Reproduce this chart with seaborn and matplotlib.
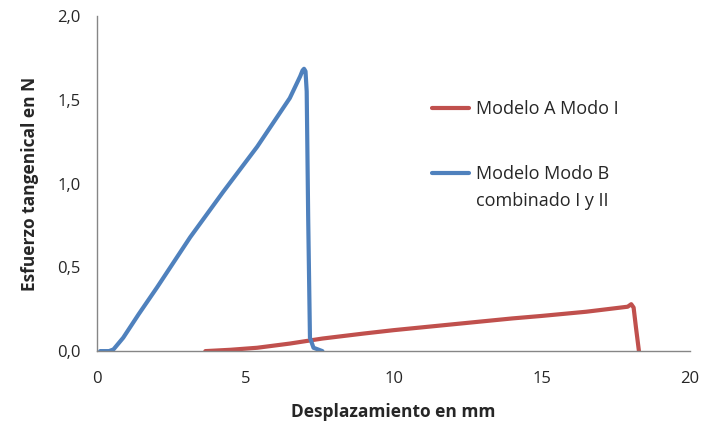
import pandas as pd
import matplotlib.pyplot as plt
import seaborn as sns

# Curve A (Modelo A Modo I)
x_a = [3.65, 4.5, 5.4, 6.5, 7.6, 9.0, 10.0, 12.0, 14.0, 15.0, 16.5, 17.9, 18.02, 18.1, 18.18, 18.28]
y_a = [0.0, 0.008, 0.02, 0.045, 0.075, 0.105, 0.125, 0.16, 0.195, 0.21, 0.235, 0.265, 0.28, 0.26, 0.14, 0.0]

# Curve B (Modelo Modo B combinado I y II)
x_b = [0.1, 0.4, 0.55, 0.88, 1.4, 2.02, 3.14, 4.25, 5.4, 6.5, 6.85, 6.93, 6.98, 7.03, 7.07, 7.12, 7.18, 7.3, 7.6]
y_b = [0.0, 0.0, 0.01, 0.08, 0.22, 0.38, 0.68, 0.95, 1.22, 1.51, 1.64, 1.675, 1.685, 1.67, 1.55, 0.8, 0.08, 0.02, 0.0]

labels = ['Modelo A Modo I', 'Modelo Modo B\ncombinado I y II']
colors = ['#C0504D', '#4F81BD']

df = pd.concat([
    pd.DataFrame({'x': x_a, 'y': y_a, 'serie': labels[0]}),
    pd.DataFrame({'x': x_b, 'y': y_b, 'serie': labels[1]}),
])

sns.set_style('white')
plt.rcParams['font.family'] = ['Open Sans', 'DejaVu Sans']

fig = plt.figure(figsize=(7.04, 4.21), dpi=100)
ax = fig.add_axes([0.138, 0.166, 0.842, 0.796])

sns.lineplot(data=df, x='x', y='y', hue='serie', palette=colors, sort=False,
             estimator=None, linewidth=3, ax=ax)

ax.set_xlim(0, 20)
ax.set_ylim(0, 2.0)
ax.set_xticks([0, 5, 10, 15, 20])
ax.set_yticks([0, 0.5, 1.0, 1.5, 2.0])
ax.set_yticklabels(['0,0', '0,5', '1,0', '1,5', '2,0'])
ax.tick_params(axis='x', length=0, labelsize=12, pad=14)
ax.tick_params(axis='y', length=0, labelsize=12, pad=12)
ax.set_xlabel('Desplazamiento en mm', fontsize=12.5, fontweight='bold', labelpad=12)
ax.set_ylabel('Esfuerzo tangenical en N', fontsize=12.5, fontweight='bold', labelpad=13)

for side in ['top', 'right']:
    ax.spines[side].set_visible(False)
for side in ['left', 'bottom']:
    ax.spines[side].set_color('#868686')
    ax.spines[side].set_linewidth(1)

handles, labs = ax.get_legend_handles_labels()
leg = ax.legend(handles, labs, loc='upper left', bbox_to_anchor=(0.565, 0.749), frameon=False,
                fontsize=13, handlelength=2.07, handletextpad=0.39, labelspacing=2.6,
                borderpad=0, borderaxespad=0)
for t in leg.get_texts():
    t.set_linespacing(1.64)
for h in leg.get_lines():
    h.set_linewidth(3)
# align the blue handle with the first line of its label
blue = leg.get_lines()[1]
blue.set_ydata([v + 10.7 for v in blue.get_ydata()])

fig.savefig('out.png', dpi=100)
